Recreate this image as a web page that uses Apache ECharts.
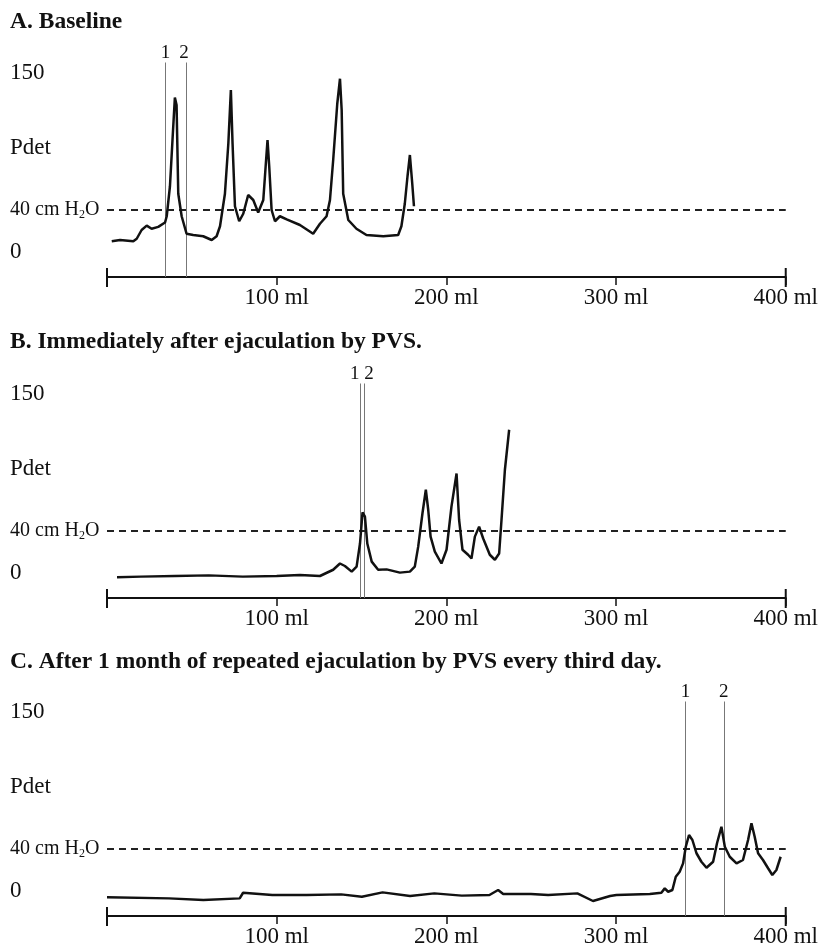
<!DOCTYPE html>
<html><head><meta charset="utf-8">
<script src="https://cdn.jsdelivr.net/npm/echarts@6/dist/echarts.min.js"></script>
<style>html,body{margin:0;padding:0;background:#fff}#c{width:821px;height:951px}</style>
</head><body><div id="c"></div>
<script>
// ---- data ----
const panelTitles = ['A. Baseline', 'B. Immediately after ejaculation by PVS.', 'C. After 1 month of repeated ejaculation by PVS every third day.'];
const xTickValues = [0, 100, 200, 300, 400];
const xTickSuffix = ' ml';
const yLabelValues = [0, 40, 90, 150];
const yLabelTexts = ['0', '40 cm H2O', 'Pdet', '150'];
const threshold = 40;

const aVol = [2.8,7.7,15.5,17.5,20.4,23.4,26.3,30.2,34.2,35.2,37.1,38.6,40,41,42,44,46.9,50.8,56.7,61.7,64.6,66.6,69.5,71.5,73,74,75.4,77.9,80.3,83.2,86.2,89.1,92.1,93.5,94.6,95.6,97,99,101.9,105.9,113.7,121.5,125.5,129.4,131.4,133.3,135.7,137.3,138.3,139.2,142.2,147,152.9,162.8,171.6,173.5,175.5,177.1,178.5,179.9,180.9];
const aPdet = [15,16,15,17,24,27.5,25,26.5,30,35,59,96,130,124,53,35,21,20,19,16,19,27,53,93,136,93,43,31,37,52,48,38,48,75,96,75,40,31,35,32.5,28,21,29,35,48,80,125,145,120,53,32,25,20,19,20,27,45,67,84,61,43];

const bVol = [5.9,20,40,60,80,100,113.7,125.5,133.3,137.3,140.2,144.2,147.1,149.1,150.6,152,153.4,156,159.8,164.8,172.6,178.5,181.4,183.4,185.9,187.9,189.3,190.7,193.2,197.1,200.1,203,206,207.5,209.5,212.8,214.8,216.8,219.3,221.7,225.6,228.6,231.1,232.5,234.5,237];
const bPdet = [3,3.5,4,4.5,3.5,4,4.8,4,9,14,12,7.5,11.5,30,55,51.5,30,15.5,9,9.3,6.7,7.5,11.5,27.5,54,73,57,35.5,23.5,14,25,59.5,86,49,25,21,18,35.5,43.5,34,21,17,22,49,89,121];

const cVol = [0,36.5,56.8,78.2,80.2,97.4,117.7,138,150.2,162.4,178.6,192.9,209.1,225.4,230.5,233.5,249.8,260,277.2,286.4,296.5,300.2,319.9,326.7,328.7,330.7,333.2,335.2,337.5,339.5,341.1,343,345,347.4,350.3,353.3,357.2,359.5,362.1,364.1,367,371,374.8,377.8,379.8,381.7,383.7,386.6,389.6,392.1,394.5,397];
const cPdet = [1.4,0.5,-0.8,0.5,5,3.2,3.2,3.7,1.8,5.3,2.4,4.5,2.7,3.2,7.2,4,4,3.2,4.5,-1.6,2.4,3.2,4,5,8.5,5.8,7.2,17.8,21.8,28.5,41.8,51.2,47.2,36.6,29.8,25,29.8,44.6,57.8,41.8,33.8,28.5,31.2,47.2,60.6,49.8,36.6,31.2,24.6,19.2,23.2,33.8];

const aMarkers = [34.5, 46.5];
const bMarkers = [149, 151.5];
const cMarkers = [341, 363.5];
const markerLabels = ['1', '2'];

// ---- layout / style ----
const FONT = '"Liberation Serif", "DejaVu Serif", serif';
const INK = '#111';
const Y_MIN = -13.6, Y_MAX = 158;
const gridTops = [62.5, 383.5, 701.5];
const gridH = 214.5;
const titleTops = [10, 330, 650];
const markerLabelOffsets = [[[0,0],[-2,0]], [[-5,0],[5,0]], [[0,0],[0,0]]];

const vols = [aVol, bVol, cVol];
const pdets = [aPdet, bPdet, cPdet];
const markers = [aMarkers, bMarkers, cMarkers];

const grids = [], xAxes = [], yAxes = [], series = [], titles = [];
for (let i = 0; i < 3; i++) {
  titles.push({text: panelTitles[i], left: 10, top: titleTops[i], padding: 0,
    textStyle: {fontFamily: FONT, fontWeight: 'bold', fontSize: 23.5, color: INK}});
  grids.push({left: 107, right: 35, top: gridTops[i], height: gridH});
  xAxes.push({type: 'value', gridIndex: i, min: 0, max: 400, interval: 100,
    axisLine: {onZero: false, lineStyle: {color: INK, width: 2}},
    axisTick: {length: 8, lineStyle: {color: INK, width: 1.5}},
    splitLine: {show: false},
    axisLabel: {formatter: v => v === 0 ? '' : v + xTickSuffix, margin: 9,
      fontFamily: FONT, fontSize: 23, color: INK}});
  yAxes.push({type: 'value', gridIndex: i, min: Y_MIN, max: Y_MAX,
    axisLine: {show: false}, axisTick: {show: false}, splitLine: {show: false},
    axisLabel: {customValues: yLabelValues, align: 'left', margin: 97,
      fontFamily: FONT, fontSize: 23, color: INK,
      formatter: v => {
        const t = yLabelTexts[yLabelValues.indexOf(v)];
        if (t === undefined) return '';
        if (t.indexOf('H2O') >= 0) { const p = t.split('H2O'); return '{s|' + p[0] + 'H}{sub|2}{s|O}'; }
        if (v === 0) return '{z|' + t + '}';
        return t;
      },
      rich: {
        s: {fontFamily: FONT, fontSize: 20, color: INK, lineHeight: 22, verticalAlign: 'middle'},
        sub: {fontFamily: FONT, fontSize: 12, color: INK, lineHeight: 22, verticalAlign: 'bottom'},
        z: {fontFamily: FONT, fontSize: 23, color: INK, padding: [0, 0, 16, 0]}
      }}});
  const mlData = markers[i].map((x, j) => ({
    xAxis: x,
    lineStyle: {color: '#777', width: 1, type: 'solid'},
    label: {show: true, position: 'end', formatter: markerLabels[j], distance: 0,
      offset: markerLabelOffsets[i][j], fontFamily: FONT, fontSize: 19, color: INK}
  }));
  mlData.push({yAxis: threshold, lineStyle: {color: '#222', width: 2, type: [7, 5]}, label: {show: false}});
  series.push({type: 'line', xAxisIndex: i, yAxisIndex: i, showSymbol: false,
    data: vols[i].map((x, k) => [x, pdets[i][k]]),
    lineStyle: {color: INK, width: 2.5}, z: 5,
    markLine: {symbol: ['none', 'none'], silent: true, animation: false, data: mlData}});
  series.push({type: 'custom', xAxisIndex: i, yAxisIndex: i, silent: true, z: 6,
    data: [[0, Y_MIN], [400, Y_MIN]],
    renderItem: (params, api) => {
      const p = api.coord([api.value(0), api.value(1)]);
      return {type: 'line', shape: {x1: p[0], y1: p[1] - 9, x2: p[0], y2: p[1] + 10},
        style: {stroke: INK, lineWidth: 2}};
    }});
}

const chart = echarts.init(document.getElementById('c'), null, {renderer: 'canvas'});
chart.setOption({animation: false, backgroundColor: '#fff', title: titles, grid: grids,
  xAxis: xAxes, yAxis: yAxes, series: series});
</script></body></html>
